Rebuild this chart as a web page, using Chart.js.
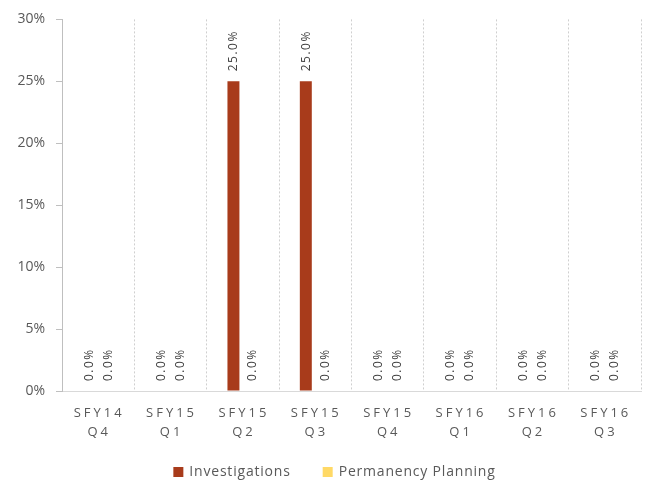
<!DOCTYPE html>
<html>
<head>
<meta charset="utf-8">
<script src="https://cdn.jsdelivr.net/npm/chart.js@4.4.0/dist/chart.umd.min.js"></script>
<style>
  html, body { margin: 0; padding: 0; background: #fff; }
  #wrap { width: 649px; height: 480px; }
</style>
</head>
<body>
<div id="wrap"><canvas id="myBarChart"></canvas></div>
<script>
// Datos del gráfico
const categories = [
    ['SFY14', 'Q4'], ['SFY15', 'Q1'], ['SFY15', 'Q2'], ['SFY15', 'Q3'],
    ['SFY15', 'Q4'], ['SFY16', 'Q1'], ['SFY16', 'Q2'], ['SFY16', 'Q3']
];
const investigations = [0, 0, 0.25, 0.25, 0, 0, 0, 0];
const permanencyPlanning = [0, 0, 0, 0, 0, 0, 0, 0];
const yTicks = [0, 0.05, 0.10, 0.15, 0.20, 0.25, 0.30];

const fontFamily = '"Open Sans", sans-serif';
const textColor = '#595959';

// Etiquetas de valor giradas sobre cada barra
const valueLabels = {
    id: 'valueLabels',
    afterDatasetsDraw(chart) {
        const ctx = chart.ctx;
        ctx.save();
        ctx.font = '12px ' + fontFamily;
        ctx.fillStyle = '#404040';
        ctx.letterSpacing = '1.5px';
        ctx.textAlign = 'left';
        ctx.textBaseline = 'middle';
        chart.data.datasets.forEach((ds, i) => {
            chart.getDatasetMeta(i).data.forEach((bar, j) => {
                const txt = (ds.data[j] * 100).toFixed(1) + '%';
                ctx.save();
                ctx.translate(bar.x + 0.5, bar.y - 10);
                ctx.rotate(-Math.PI / 2);
                ctx.fillText(txt, 0, 0);
                ctx.restore();
            });
        });
        ctx.restore();
    }
};

// Etiquetas del eje X con espaciado entre letras
const spacedTicks = {
    id: 'spacedTicks',
    afterDraw(chart) {
        const ctx = chart.ctx;
        const x = chart.scales.x;
        const bottom = chart.chartArea.bottom;
        ctx.save();
        ctx.font = '13px ' + fontFamily;
        ctx.fillStyle = textColor;
        ctx.letterSpacing = '3px';
        ctx.textAlign = 'center';
        ctx.textBaseline = 'middle';
        categories.forEach((lines, i) => {
            const px = x.getPixelForValue(i) + 1;
            lines.forEach((line, k) => {
                ctx.fillText(line, px, bottom + 22 + k * 19);
            });
        });
        ctx.restore();
    }
};

// Leyenda propia abajo (con más espacio entre elementos)
const bottomLegend = {
    id: 'bottomLegend',
    afterDraw(chart) {
        const ctx = chart.ctx;
        const box = 10, gapText = 6, gapItem = 32;
        ctx.save();
        ctx.font = '14px ' + fontFamily;
        ctx.letterSpacing = '0.8px';
        ctx.textBaseline = 'middle';
        ctx.textAlign = 'left';
        const items = chart.data.datasets.map(ds => ({
            label: ds.label,
            color: ds.backgroundColor,
            w: ctx.measureText(ds.label).width
        }));
        let total = 0;
        items.forEach((it, i) => {
            total += box + gapText + it.w + (i < items.length - 1 ? gapItem : 0);
        });
        let x = chart.width / 2 + 10 - total / 2;
        const y = 472;
        items.forEach(it => {
            ctx.fillStyle = it.color;
            ctx.fillRect(x, y - box / 2, box, box);
            ctx.fillStyle = textColor;
            ctx.fillText(it.label, x + box + gapText, y);
            x += box + gapText + it.w + gapItem;
        });
        ctx.restore();
    }
};

const barData = {
    labels: categories,
    datasets: [
        {
            label: 'Investigations',
            data: investigations,
            backgroundColor: '#A83B1B',
            categoryPercentage: 0.525,
            barPercentage: 0.63
        },
        {
            label: 'Permanency Planning',
            data: permanencyPlanning,
            backgroundColor: '#FFD966',
            categoryPercentage: 0.525,
            barPercentage: 0.63
        }
    ]
};

const configBar = {
    type: 'bar',
    data: barData,
    options: {
        responsive: true,
        maintainAspectRatio: false,
        animation: false,
        layout: {
            padding: { top: 10, right: 8, bottom: 25, left: 0 }
        },
        plugins: {
            legend: { display: false },
            tooltip: { enabled: false }
        },
        scales: {
            x: {
                offset: true,
                afterFit: (scale) => { scale.height = 64; },
                ticks: {
                    color: 'transparent',
                    font: { family: fontFamily, size: 13 },
                    maxRotation: 0,
                    padding: 6
                },
                grid: {
                    offset: true,
                    color: '#cfcfcf',
                    drawTicks: false
                },
                border: {
                    color: '#d9d9d9',
                    dash: [2, 2]
                }
            },
            y: {
                min: 0,
                max: 0.3,
                afterBuildTicks: (scale) => {
                    scale.ticks = yTicks.map(v => ({ value: v }));
                },
                afterFit: (scale) => { scale.width = 62; },
                ticks: {
                    color: textColor,
                    font: { family: fontFamily, size: 14 },
                    padding: 11,
                    callback: (v) => Math.round(v * 100) + '%'
                },
                grid: {
                    drawOnChartArea: false,
                    color: '#bfbfbf',
                    tickLength: 6
                },
                border: { color: '#bfbfbf' }
            }
        }
    },
    plugins: [valueLabels, spacedTicks, bottomLegend]
};

const barCtx = document.getElementById('myBarChart').getContext('2d');
new Chart(barCtx, configBar);
</script>
</body>
</html>
